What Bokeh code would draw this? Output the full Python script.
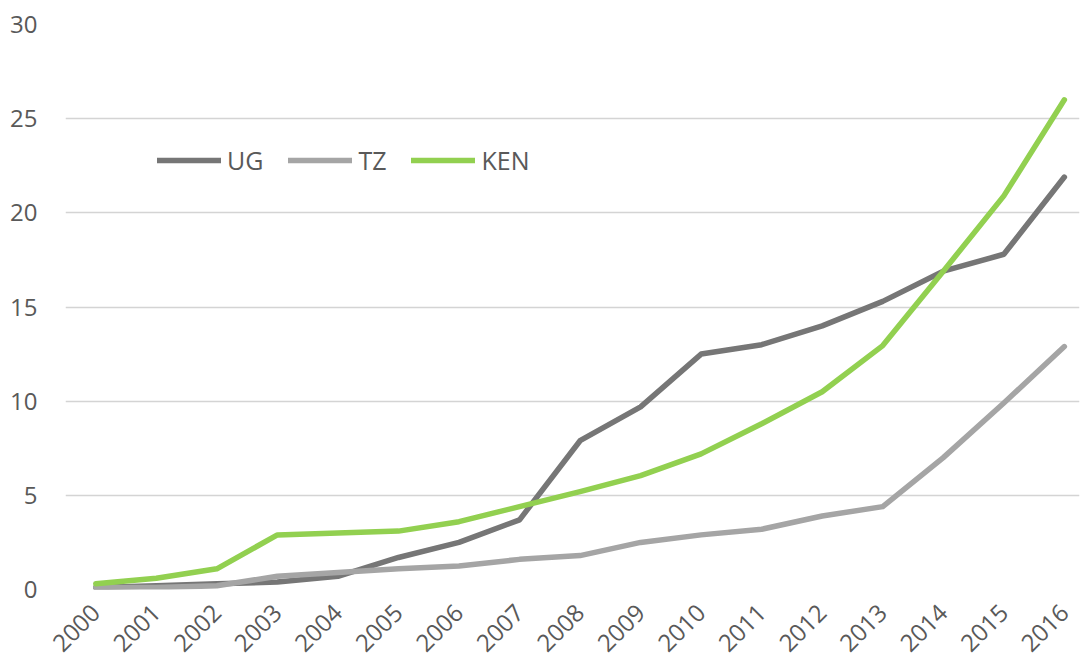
import math
from bokeh.plotting import figure
from bokeh.models import Range1d, FixedTicker, Legend, LegendItem
from bokeh.embed import file_html
from bokeh.resources import INLINE

years = list(range(2000, 2017))
ug = [0.1, 0.2, 0.3, 0.4, 0.7, 1.7, 2.5, 3.7, 7.9, 9.7, 12.5, 13.0, 14.0, 15.3, 16.9, 17.8, 21.9]
tz = [0.1, 0.1, 0.2, 0.7, 0.9, 1.1, 1.25, 1.6, 1.8, 2.5, 2.9, 3.2, 3.9, 4.4, 7.0, 9.9, 12.9]
ken = [0.3, 0.6, 1.1, 2.9, 3.0, 3.1, 3.6, 4.4, 5.2, 6.05, 7.2, 8.8, 10.5, 12.95, 16.9, 20.9, 26.0]
y_ticks = [0, 5, 10, 15, 20, 25, 30]
series_names = ["UG", "TZ", "KEN"]
series_colors = ["#767676", "#A5A5A5", "#92D050"]

FONT = "Open Sans"
TXT = "#595959"

p = figure(width=1087, height=668, output_backend="svg", toolbar_location=None,
           x_range=Range1d(1999.5, 2016.25), y_range=Range1d(0, 30),
           min_border_left=65, min_border_right=8, min_border_top=24, min_border_bottom=79)
p.outline_line_color = None
p.background_fill_color = "white"
p.border_fill_color = "white"

renderers = []
for name, vals, col in zip(series_names, [ug, tz, ken], series_colors):
    r = p.line(years, vals, line_color=col, line_width=5.5, line_cap="round", line_join="round")
    renderers.append((name, r))

# axes
p.xaxis.ticker = FixedTicker(ticks=years)
p.xaxis.major_label_orientation = math.pi / 4
p.xaxis.axis_line_color = None
p.xaxis.major_tick_line_color = None
p.xaxis.minor_tick_line_color = None
p.xaxis.major_label_text_font = FONT
p.xaxis.major_label_text_font_size = "24px"
p.xaxis.major_label_text_color = TXT
p.xaxis.major_label_standoff = 13

p.yaxis.ticker = FixedTicker(ticks=y_ticks)
p.yaxis.axis_line_color = None
p.yaxis.major_tick_line_color = None
p.yaxis.minor_tick_line_color = None
p.yaxis.major_label_text_font = FONT
p.yaxis.major_label_text_font_size = "24px"
p.yaxis.major_label_text_color = TXT
p.yaxis.major_label_standoff = 22

p.xgrid.grid_line_color = None
p.ygrid.grid_line_color = "#D4D4D4"
p.ygrid.grid_line_width = 1.5

legend = Legend(items=[LegendItem(label=n, renderers=[r]) for n, r in renderers],
                orientation="horizontal", location=(92, 412),
                background_fill_alpha=0, border_line_color=None,
                label_text_font=FONT, label_text_font_size="25px", label_text_color=TXT,
                glyph_width=64, glyph_height=22, label_standoff=6, spacing=25,
                padding=0, margin=0)
p.add_layout(legend, "center")

open("out.html", "w").write(file_html(p, INLINE))
